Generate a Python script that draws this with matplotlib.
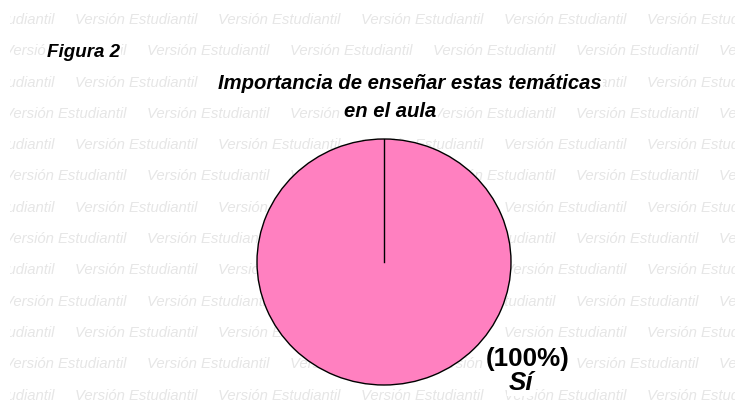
import matplotlib
matplotlib.use("Agg")
import matplotlib.pyplot as plt
import numpy as np
from matplotlib.transforms import Bbox, TransformedBbox

# ---- data ----
categories = ["Sí"]
values = [100]
colors = ["#FF80C0"]
title_lines = ["Importancia de enseñar estas temáticas", "en el aula"]
figure_label = "Figura 2"
watermark = "Versión Estudiantil"

W, H = 735, 403
fig = plt.figure(figsize=(W / 100, H / 100), dpi=100)
fig.patch.set_facecolor("white")

def fx(x):
    return x / W

def fy(y):
    return 1 - y / H

# ---- watermark ----
clip = TransformedBbox(Bbox.from_extents(fx(10), 0, 1, 1), fig.transFigure)
period = 143
for k in range(13):
    y = 20 + 31.3 * k
    phase = 75 if k % 2 == 0 else 4
    for x in np.arange(phase - period, W, period):
        t = fig.text(fx(x), fy(y), watermark, fontsize=10.7, fontstyle="italic",
                     family=["Liberation Sans", "DejaVu Sans"],
                     color="#e6e6e6", ha="left", va="center", zorder=-10)
        t.set_clip_on(True)
        t.set_clip_box(clip)

# ---- pie axes ----
left, right, top, bottom = 257, 511, 139, 385
ax = fig.add_axes([fx(left), fy(bottom), (right - left) / W, (bottom - top) / H])
ax.set_zorder(1)
startangle = 90
wedges, _ = ax.pie(values, colors=colors, startangle=startangle, counterclock=False,
                   radius=1, center=(0, 0),
                   wedgeprops=dict(edgecolor="black", linewidth=1.0))
ax.set_aspect("auto")
ax.set_xlim(-1.0, 1.0)
ax.set_ylim(-1.0, 1.0)
ax.patch.set_alpha(0)
ax.axis("off")
# radial edge of the single slice
a = np.deg2rad(startangle)
ax.plot([0, np.cos(a)], [0, np.sin(a)], color="black", linewidth=1.0)
for w in wedges:
    w.set_clip_on(False)

# ---- texts ----
box = dict(facecolor="white", edgecolor="none", pad=1)
tfont = dict(family=["Liberation Sans", "DejaVu Sans"], fontweight="bold", fontstyle="italic")
fig.text(fx(47), fy(57), figure_label, fontsize=13.5, ha="left", va="baseline", bbox=box, zorder=5, **tfont)
fig.text(fx(410), fy(89), title_lines[0], fontsize=14.6, ha="center", va="baseline", bbox=box, zorder=5, **tfont)
fig.text(fx(390), fy(117), title_lines[1], fontsize=14.6, ha="center", va="baseline", bbox=box, zorder=5, **tfont)

pct = values[0] / sum(values) * 100
fig.text(fx(528), fy(366), f"({pct:.0f}%)", fontsize=18.7, ha="center", va="baseline",
         family=["Liberation Sans", "DejaVu Sans"], fontweight="bold", bbox=box, zorder=5)
fig.text(fx(521), fy(390), categories[0], fontsize=18.7, ha="center", va="baseline", bbox=box, zorder=5, **tfont)

fig.savefig("out.png", dpi=100, facecolor="white")
